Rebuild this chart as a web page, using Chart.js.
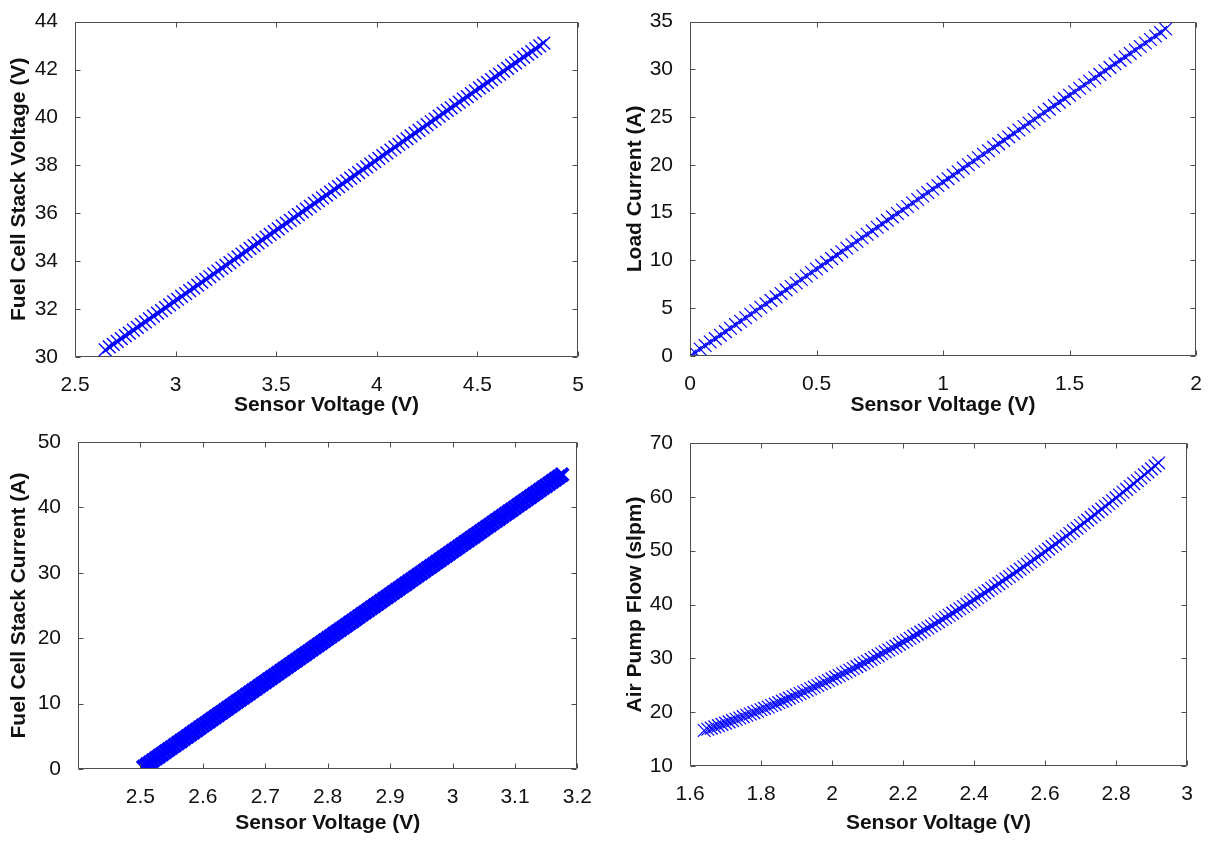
<!DOCTYPE html>
<html>
<head>
<meta charset="utf-8">
<script src="https://cdn.jsdelivr.net/npm/chart.js@4.4.1/dist/chart.umd.min.js"></script>
<style>
    body { margin: 0; background: #fff; width: 1216px; height: 841px; position: relative; overflow: hidden; }
    .box { position: absolute; }
</style>
</head>
<body>
<div class="box" style="left:0;top:0;width:600px;height:420px"><canvas id="myChart"></canvas></div>
<div class="box" style="left:600px;top:0;width:616px;height:420px"><canvas id="myChart2"></canvas></div>
<div class="box" style="left:0;top:420px;width:600px;height:421px"><canvas id="myChart3"></canvas></div>
<div class="box" style="left:600px;top:420px;width:616px;height:421px"><canvas id="myChart4"></canvas></div>
<script>
// fuel cell stack voltage vs sensor voltage
const stackVoltSensor = [2.65, 2.67, 2.69, 2.71, 2.73, 2.75, 2.77, 2.79, 2.81, 2.83,
    2.85, 2.87, 2.89, 2.91, 2.93, 2.95, 2.97, 2.99, 3.01, 3.03,
    3.05, 3.07, 3.09, 3.11, 3.13, 3.15, 3.17, 3.19, 3.21, 3.23,
    3.25, 3.27, 3.29, 3.31, 3.33, 3.35, 3.37, 3.39, 3.41, 3.43,
    3.45, 3.47, 3.49, 3.51, 3.53, 3.55, 3.57, 3.59, 3.61, 3.63,
    3.65, 3.67, 3.69, 3.71, 3.73, 3.75, 3.77, 3.79, 3.81, 3.83,
    3.85, 3.87, 3.89, 3.91, 3.93, 3.95, 3.97, 3.99, 4.01, 4.03,
    4.05, 4.07, 4.09, 4.11, 4.13, 4.15, 4.17, 4.19, 4.21, 4.23,
    4.25, 4.27, 4.29, 4.31, 4.33, 4.35, 4.37, 4.39, 4.41, 4.43,
    4.45, 4.47, 4.49, 4.51, 4.53, 4.55, 4.57, 4.59, 4.61, 4.63,
    4.65, 4.67, 4.69, 4.71, 4.73, 4.75, 4.77, 4.79, 4.81, 4.83];
const stackVolt = [30.30, 30.42, 30.53, 30.65, 30.77, 30.89, 31.00, 31.12, 31.24, 31.36,
    31.47, 31.59, 31.71, 31.83, 31.94, 32.06, 32.18, 32.30, 32.41, 32.53,
    32.65, 32.77, 32.88, 33.00, 33.12, 33.24, 33.35, 33.47, 33.59, 33.71,
    33.82, 33.94, 34.06, 34.18, 34.29, 34.41, 34.53, 34.65, 34.76, 34.88,
    35.00, 35.12, 35.23, 35.35, 35.47, 35.59, 35.70, 35.82, 35.94, 36.06,
    36.17, 36.29, 36.41, 36.53, 36.64, 36.76, 36.88, 37.00, 37.11, 37.23,
    37.35, 37.47, 37.58, 37.70, 37.82, 37.94, 38.05, 38.17, 38.29, 38.41,
    38.52, 38.64, 38.76, 38.88, 38.99, 39.11, 39.23, 39.35, 39.46, 39.58,
    39.70, 39.82, 39.93, 40.05, 40.17, 40.29, 40.40, 40.52, 40.64, 40.76,
    40.87, 40.99, 41.11, 41.23, 41.34, 41.46, 41.58, 41.70, 41.81, 41.93,
    42.05, 42.17, 42.28, 42.40, 42.52, 42.64, 42.75, 42.87, 42.99, 43.10];

// load current vs sensor voltage
const loadSensor = [0, 0.02, 0.04, 0.06, 0.08, 0.10, 0.12, 0.14, 0.16, 0.18,
    0.20, 0.22, 0.24, 0.26, 0.28, 0.30, 0.32, 0.34, 0.36, 0.38,
    0.40, 0.42, 0.44, 0.46, 0.48, 0.50, 0.52, 0.54, 0.56, 0.58,
    0.60, 0.62, 0.64, 0.66, 0.68, 0.70, 0.72, 0.74, 0.76, 0.78,
    0.80, 0.82, 0.84, 0.86, 0.88, 0.90, 0.92, 0.94, 0.96, 0.98,
    1.00, 1.02, 1.04, 1.06, 1.08, 1.10, 1.12, 1.14, 1.16, 1.18,
    1.20, 1.22, 1.24, 1.26, 1.28, 1.30, 1.32, 1.34, 1.36, 1.38,
    1.40, 1.42, 1.44, 1.46, 1.48, 1.50, 1.52, 1.54, 1.56, 1.58,
    1.60, 1.62, 1.64, 1.66, 1.68, 1.70, 1.72, 1.74, 1.76, 1.78,
    1.80, 1.82, 1.84, 1.86, 1.88];
const loadCurrent = [0.00, 0.36, 0.73, 1.09, 1.46, 1.82, 2.18, 2.55, 2.91, 3.28,
    3.64, 4.00, 4.37, 4.73, 5.10, 5.46, 5.82, 6.19, 6.55, 6.92,
    7.28, 7.64, 8.01, 8.37, 8.74, 9.10, 9.46, 9.83, 10.19, 10.56,
    10.92, 11.28, 11.65, 12.01, 12.38, 12.74, 13.10, 13.47, 13.83, 14.20,
    14.56, 14.92, 15.29, 15.65, 16.02, 16.38, 16.74, 17.11, 17.47, 17.84,
    18.20, 18.56, 18.93, 19.29, 19.66, 20.02, 20.38, 20.75, 21.11, 21.48,
    21.84, 22.20, 22.57, 22.93, 23.30, 23.66, 24.02, 24.39, 24.75, 25.12,
    25.48, 25.84, 26.21, 26.57, 26.94, 27.30, 27.66, 28.03, 28.39, 28.76,
    29.12, 29.48, 29.85, 30.21, 30.58, 30.94, 31.30, 31.67, 32.03, 32.40,
    32.76, 33.12, 33.49, 33.85, 34.22];

// fuel cell stack current vs sensor voltage
const stackCurSensor = [2.505, 2.51, 2.515, 2.52, 2.525, 2.53, 2.535, 2.54, 2.545, 2.55,
    2.555, 2.56, 2.565, 2.57, 2.575, 2.58, 2.585, 2.59, 2.595, 2.60,
    2.605, 2.61, 2.615, 2.62, 2.625, 2.63, 2.635, 2.64, 2.645, 2.65,
    2.655, 2.66, 2.665, 2.67, 2.675, 2.68, 2.685, 2.69, 2.695, 2.70,
    2.705, 2.71, 2.715, 2.72, 2.725, 2.73, 2.735, 2.74, 2.745, 2.75,
    2.755, 2.76, 2.765, 2.77, 2.775, 2.78, 2.785, 2.79, 2.795, 2.80,
    2.805, 2.81, 2.815, 2.82, 2.825, 2.83, 2.835, 2.84, 2.845, 2.85,
    2.855, 2.86, 2.865, 2.87, 2.875, 2.88, 2.885, 2.89, 2.895, 2.90,
    2.905, 2.91, 2.915, 2.92, 2.925, 2.93, 2.935, 2.94, 2.945, 2.95,
    2.955, 2.96, 2.965, 2.97, 2.975, 2.98, 2.985, 2.99, 2.995, 3.00,
    3.005, 3.01, 3.015, 3.02, 3.025, 3.03, 3.035, 3.04, 3.045, 3.05,
    3.055, 3.06, 3.065, 3.07, 3.075, 3.08, 3.085, 3.09, 3.095, 3.10,
    3.105, 3.11, 3.115, 3.12, 3.125, 3.13, 3.135, 3.14, 3.145, 3.15,
    3.155, 3.16, 3.165, 3.17, 3.175];
const stackCurrent = [0.30, 0.63, 0.97, 1.30, 1.63, 1.97, 2.30, 2.63, 2.97, 3.30,
    3.64, 3.97, 4.30, 4.64, 4.97, 5.30, 5.64, 5.97, 6.30, 6.64,
    6.97, 7.30, 7.64, 7.97, 8.31, 8.64, 8.97, 9.31, 9.64, 9.97,
    10.31, 10.64, 10.97, 11.31, 11.64, 11.98, 12.31, 12.64, 12.98, 13.31,
    13.64, 13.97, 14.31, 14.64, 14.97, 15.31, 15.64, 15.97, 16.31, 16.64,
    16.98, 17.31, 17.64, 17.98, 18.31, 18.65, 18.98, 19.31, 19.64, 19.98,
    20.31, 20.64, 20.98, 21.31, 21.64, 21.98, 22.31, 22.64, 22.98, 23.31,
    23.65, 23.98, 24.31, 24.65, 24.98, 25.31, 25.65, 25.98, 26.31, 26.65,
    26.98, 27.31, 27.65, 27.98, 28.31, 28.65, 28.98, 29.31, 29.65, 29.98,
    30.32, 30.65, 30.98, 31.32, 31.65, 31.98, 32.32, 32.65, 32.98, 33.32,
    33.65, 33.98, 34.32, 34.65, 34.98, 35.32, 35.65, 35.98, 36.32, 36.65,
    36.99, 37.32, 37.65, 37.99, 38.32, 38.66, 38.99, 39.32, 39.65, 39.99,
    40.32, 40.65, 40.99, 41.32, 41.65, 41.99, 42.32, 42.65, 42.99, 43.32,
    43.66, 43.99, 44.32, 44.66, 45.00];

// air pump flow vs sensor voltage
const pumpSensor = [1.64, 1.65, 1.66, 1.67, 1.68, 1.69, 1.70, 1.71, 1.72, 1.73,
    1.74, 1.75, 1.76, 1.77, 1.78, 1.79, 1.80, 1.81, 1.82, 1.83,
    1.84, 1.85, 1.86, 1.87, 1.88, 1.89, 1.90, 1.91, 1.92, 1.93,
    1.94, 1.95, 1.96, 1.97, 1.98, 1.99, 2.00, 2.01, 2.02, 2.03,
    2.04, 2.05, 2.06, 2.07, 2.08, 2.09, 2.10, 2.11, 2.12, 2.13,
    2.14, 2.15, 2.16, 2.17, 2.18, 2.19, 2.20, 2.21, 2.22, 2.23,
    2.24, 2.25, 2.26, 2.27, 2.28, 2.29, 2.30, 2.31, 2.32, 2.33,
    2.34, 2.35, 2.36, 2.37, 2.38, 2.39, 2.40, 2.41, 2.42, 2.43,
    2.44, 2.45, 2.46, 2.47, 2.48, 2.49, 2.50, 2.51, 2.52, 2.53,
    2.54, 2.55, 2.56, 2.57, 2.58, 2.59, 2.60, 2.61, 2.62, 2.63,
    2.64, 2.65, 2.66, 2.67, 2.68, 2.69, 2.70, 2.71, 2.72, 2.73,
    2.74, 2.75, 2.76, 2.77, 2.78, 2.79, 2.80, 2.81, 2.82, 2.83,
    2.84, 2.85, 2.86, 2.87, 2.88, 2.89, 2.90, 2.91, 2.92];
const pumpFlow = [16.60, 16.82, 17.04, 17.27, 17.50, 17.73, 17.96, 18.20, 18.43, 18.68,
    18.92, 19.17, 19.42, 19.67, 19.92, 20.18, 20.44, 20.71, 20.97, 21.24,
    21.50, 21.78, 22.05, 22.33, 22.61, 22.90, 23.18, 23.47, 23.76, 24.06,
    24.35, 24.66, 24.96, 25.27, 25.57, 25.88, 26.19, 26.51, 26.82, 27.15,
    27.47, 27.80, 28.12, 28.46, 28.79, 29.13, 29.46, 29.81, 30.15, 30.50,
    30.85, 31.21, 31.56, 31.92, 32.27, 32.64, 33.00, 33.37, 33.74, 34.12,
    34.49, 34.87, 35.25, 35.64, 36.02, 36.42, 36.81, 37.21, 37.60, 38.00,
    38.40, 38.81, 39.22, 39.63, 40.04, 40.46, 40.87, 41.30, 41.72, 42.15,
    42.58, 43.01, 43.44, 43.88, 44.32, 44.77, 45.21, 45.66, 46.11, 46.57,
    47.02, 47.48, 47.94, 48.41, 48.87, 49.34, 49.81, 50.29, 50.76, 51.24,
    51.72, 52.21, 52.69, 53.19, 53.68, 54.18, 54.67, 55.18, 55.68, 56.19,
    56.69, 57.21, 57.72, 58.24, 58.75, 59.28, 59.80, 60.33, 60.86, 61.39,
    61.92, 62.46, 63.00, 63.55, 64.09, 64.64, 65.19, 65.75, 66.30];

const xTitle = 'Sensor Voltage (V)';

// matlab style box with inward ticks on all four sides
const boxPlugin = {
    id: 'box',
    afterDatasetsDraw(chart) {
        const a = chart.chartArea;
        const c = chart.ctx;
        const L = Math.round(a.left) + 0.5, R = Math.round(a.right) - 0.5;
        const T = Math.round(a.top) + 0.5, B = Math.round(a.bottom) - 0.5;
        c.save();
        c.strokeStyle = '#4d4d4d';
        c.lineWidth = 1;
        c.beginPath();
        c.rect(L, T, R - L, B - T);
        for (var t of chart.scales.x.ticks) {
            var px = Math.round(chart.scales.x.getPixelForValue(t.value)) + 0.5;
            c.moveTo(px, B); c.lineTo(px, B - 5);
            c.moveTo(px, T); c.lineTo(px, T + 5);
        }
        for (var t of chart.scales.y.ticks) {
            var py = Math.round(chart.scales.y.getPixelForValue(t.value)) + 0.5;
            c.moveTo(L, py); c.lineTo(L + 5, py);
            c.moveTo(R, py); c.lineTo(R - 5, py);
        }
        c.stroke();
        c.restore();
    }
};

function fmt(v) {
    return String(+v.toFixed(2));
}

function makeChart(id, xs, ys, cfg) {
    const ctx = document.getElementById(id);
    new Chart(ctx, {
        type: 'scatter',
        data: {
            datasets: [{
                data: xs.map((x, i) => ({ x: x, y: ys[i] })),
                pointStyle: 'crossRot',
                pointRadius: cfg.markSize,
                pointBorderWidth: cfg.markWidth,
                pointBorderColor: '#0000ff',
                pointBackgroundColor: 'rgba(0,0,0,0)',
                showLine: false
            }]
        },
        options: {
            responsive: true,
            maintainAspectRatio: false,
            animation: false,
            layout: { padding: { top: cfg.top, right: cfg.right, left: 0, bottom: 0 } },
            plugins: { legend: { display: false }, tooltip: { enabled: false } },
            scales: {
                x: {
                    type: 'linear',
                    min: cfg.xMin, max: cfg.xMax,
                    grid: { display: false },
                    border: { display: false },
                    ticks: {
                        stepSize: cfg.xStep,
                        autoSkip: false,
                        maxRotation: 0,
                        padding: 8,
                        color: '#111',
                        font: { family: 'Liberation Sans', size: 21 },
                        callback: v => (cfg.xHide !== undefined && Math.abs(v - cfg.xHide) < 1e-6) ? '' : fmt(v)
                    },
                    title: {
                        display: true,
                        text: xTitle,
                        color: '#111',
                        padding: { top: 0, bottom: cfg.xTitlePad },
                        font: { family: 'Liberation Sans', size: 21, weight: 'bold' }
                    },
                    afterFit: s => { s.height = cfg.xH; }
                },
                y: {
                    min: cfg.yMin, max: cfg.yMax,
                    grid: { display: false },
                    border: { display: false },
                    ticks: {
                        stepSize: cfg.yStep,
                        padding: 9,
                        color: '#111',
                        font: { family: 'Liberation Sans', size: 21 },
                        callback: v => fmt(v)
                    },
                    title: {
                        display: true,
                        text: cfg.yTitle,
                        color: '#111',
                        padding: { top: cfg.yTitlePad, bottom: 0 },
                        font: { family: 'Liberation Sans', size: 21, weight: 'bold' }
                    },
                    afterFit: s => { s.width = cfg.yW; }
                }
            }
        },
        plugins: [boxPlugin]
    });
}

makeChart('myChart', stackVoltSensor, stackVolt, {
    yTitle: 'Fuel Cell Stack Voltage (V)',
    xMin: 2.5, xMax: 5, xStep: 0.5, yMin: 30, yMax: 44, yStep: 2,
    top: 13, right: 22, yW: 75, xH: 63, xTitlePad: 2, yTitlePad: 7, markSize: 9, markWidth: 1.4
});
makeChart('myChart2', loadSensor, loadCurrent, {
    yTitle: 'Load Current (A)',
    xMin: 0, xMax: 2, xStep: 0.5, yMin: 0, yMax: 35, yStep: 5,
    top: 13, right: 20, yW: 90, xH: 64, xTitlePad: 2, yTitlePad: 23, markSize: 9, markWidth: 1.2
});
makeChart('myChart3', stackCurSensor, stackCurrent, {
    yTitle: 'Fuel Cell Stack Current (A)',
    xMin: 2.4, xMax: 3.2, xStep: 0.1, xHide: 2.4, yMin: 0, yMax: 50, yStep: 10,
    top: 22, right: 18, yW: 78, xH: 72, xTitlePad: 5, yTitlePad: 7, markSize: 9, markWidth: 4
});
makeChart('myChart4', pumpSensor, pumpFlow, {
    yTitle: 'Air Pump Flow (slpm)',
    xMin: 1.6, xMax: 3, xStep: 0.2, yMin: 10, yMax: 70, yStep: 10,
    top: 23, right: 29, yW: 90, xH: 75, xTitlePad: 5, yTitlePad: 23, markSize: 9, markWidth: 1.2
});
</script>
</body>
</html>
